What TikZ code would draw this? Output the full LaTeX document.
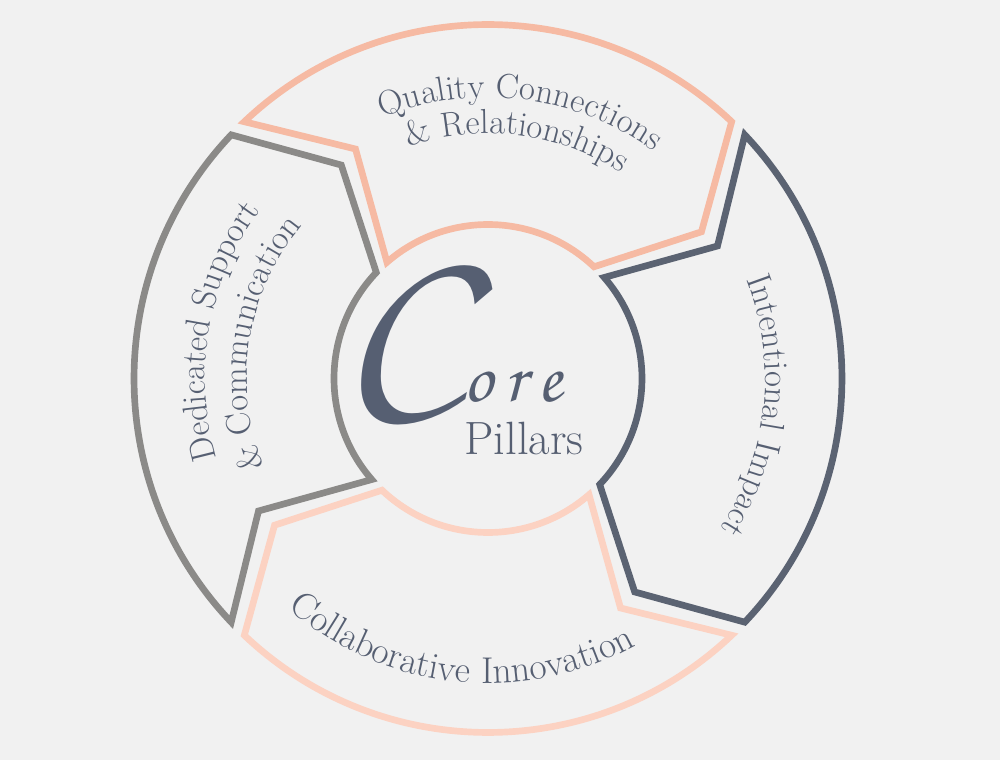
\documentclass[tikz,border=0pt]{standalone}
\usepackage[T1,TU]{fontenc}
\usepackage{tikz}
\usetikzlibrary{decorations.text}
\usetikzlibrary{positioning}

\definecolor{paper}{RGB}{241,241,241}
\definecolor{qcpink}{RGB}{246,186,163}
\definecolor{cilight}{RGB}{252,210,194}
\definecolor{iislate}{RGB}{91,99,114}
\definecolor{dsgrey}{RGB}{139,138,136}
\definecolor{inktext}{RGB}{86,95,114}

\newcommand{\pillarfont}{\fontsize{26}{30}\selectfont}
\newcommand{\pillarfontwide}{\fontsize{28}{32}\selectfont}
\newcommand{\corescript}{\fontencoding{T1}\fontfamily{pzc}\fontseries{mb}\fontshape{it}\selectfont}

\tikzset{
  pillar/.style={line width=5pt, line join=miter, miter limit=10},
  ringlabel/.style={decorate, decoration={text along path, text align=center, text color=inktext, text={#1}}},
}

\begin{document}
\begin{tikzpicture}[x=0.75pt,y=0.75pt]
%set diagram at the size of the page
\useasboundingbox[fill=paper] (-488,-381.5) rectangle (512,378.5);

%Shape: Quality Connections
\draw[pillar, draw=qcpink] (133.5:354) arc[start angle=133.5, end angle=46.5, radius=354] -- (34.5:259) -- (46.5:154) arc[start angle=46.5, end angle=131, radius=154] -- (120:265) -- cycle;
%Shape: Intentional Impact
\draw[pillar, draw=iislate] (43.5:354) arc[start angle=43.5, end angle=-43.5, radius=354] -- (-55.5:259) -- (-43.5:154) arc[start angle=-43.5, end angle=41, radius=154] -- (30:265) -- cycle;
%Shape: Collaborative Innovation
\draw[pillar, draw=cilight] (-46.5:354) arc[start angle=-46.5, end angle=-133.5, radius=354] -- (-145.5:259) -- (-133.5:154) arc[start angle=-133.5, end angle=-49, radius=154] -- (-60:265) -- cycle;
%Shape: Dedicated Support
\draw[pillar, draw=dsgrey] (223.5:354) arc[start angle=223.5, end angle=136.5, radius=354] -- (124.5:259) -- (136.5:154) arc[start angle=136.5, end angle=221, radius=154] -- (210:265) -- cycle;

% Curved labels
\path[ringlabel={|\pillarfont|Quality Connections}] (143:281) arc[start angle=143, end angle=23, radius=281];
\path[ringlabel={|\pillarfont|{\&} Relationships}] (143:245) arc[start angle=143, end angle=23, radius=245];
\path[ringlabel={|\pillarfont|Intentional Impact}] (54:277) arc[start angle=54, end angle=-66, radius=277];
\path[ringlabel={|\pillarfontwide|Collaborative Innovation}] (-158:305) arc[start angle=-158, end angle=-34, radius=305];
\path[ringlabel={|\pillarfont|Dedicated Support}] (230:283) arc[start angle=230, end angle=110, radius=283];
\path[ringlabel={|\pillarfont|{\&} Communication}] (231:241) arc[start angle=231, end angle=111, radius=241];

% Text Node
\node[anchor=base west, inner sep=0pt, text=inktext, font=\corescript\fontsize{180}{180}\selectfont] (coreC) at (-148,-29.5) {C};
% Text Node
\node[anchor=base west, inner sep=0pt, text=inktext, font=\corescript\fontsize{54}{54}\selectfont] (coreore) at (-25,-23.5) {o\kern9pt r\kern9pt e};
% Text Node
\node[anchor=base, inner sep=0pt, text=inktext, font=\fontsize{35}{38}\selectfont] (pillars) at (36,-76.5) {Pillars};

\end{tikzpicture}
\end{document}
